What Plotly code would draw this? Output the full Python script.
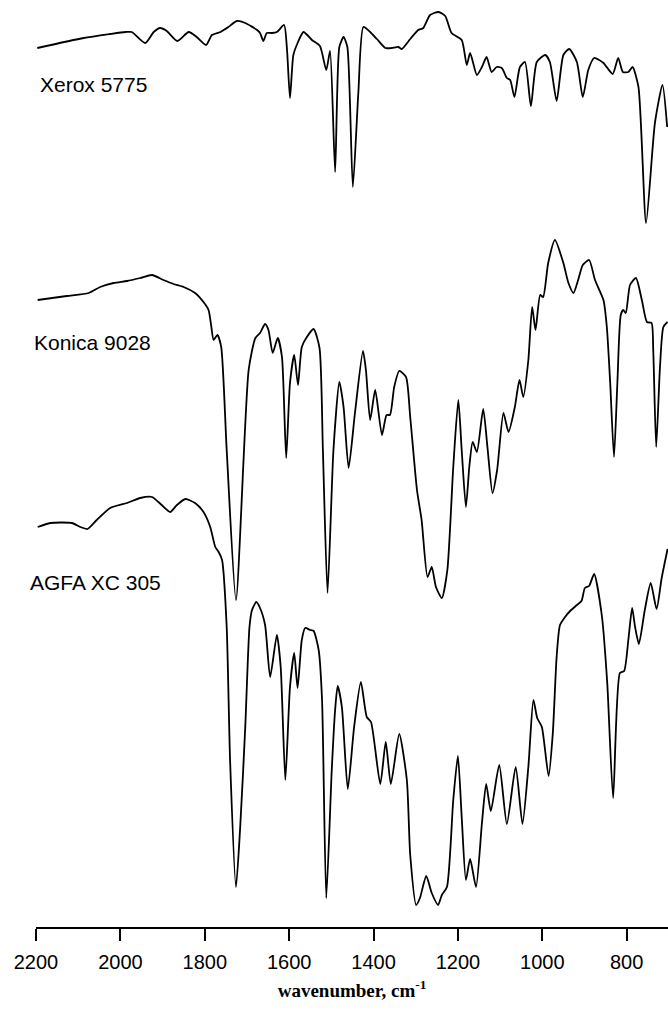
import plotly.graph_objects as go

# ---- data (wavenumber in cm^-1, signal in arbitrary stacked units) ----
xerox_wn = [2197, 2087, 2024, 1988, 1973, 1941, 1921, 1906, 1890, 1865, 1838, 1819, 1797, 1783,
            1763, 1744, 1724, 1704, 1676, 1669, 1661, 1653, 1641, 1629, 1612, 1605, 1598, 1590,
            1580, 1566, 1546, 1527, 1512, 1503, 1491, 1481, 1471, 1462, 1449, 1436, 1424, 1408,
            1392, 1372, 1357, 1341, 1333, 1313, 1294, 1282, 1266, 1246, 1230, 1215, 1191, 1179,
            1171, 1155, 1143, 1132, 1120, 1108, 1096, 1084, 1076, 1066, 1053, 1041, 1027, 1013,
            993, 982, 966, 950, 936, 918, 904, 891, 877, 855, 833, 820, 809, 796, 786, 772, 754,
            733, 715, 704]
xerox_val = [879, 889, 893, 895, 895, 884, 895, 899, 896, 886, 895, 890, 882, 892,
             895, 900, 906, 904, 897, 894, 886, 894, 894, 895, 902, 877, 829, 872,
             884, 895, 887, 881, 857, 876, 755, 880, 890, 880, 740, 834, 900, 895,
             888, 879, 879, 880, 878, 888, 897, 899, 912, 915, 911, 894, 887, 862,
             874, 852, 860, 870, 855, 860, 859, 849, 847, 830, 860, 865, 821, 865,
             872, 865, 826, 872, 878, 865, 830, 857, 869, 864, 853, 869, 855, 855, 860, 840, 704,
             804, 842, 800]

konica_wn = [2196, 2127, 2075, 2048, 2016, 1984, 1953, 1925, 1898, 1874, 1850, 1823, 1803, 1791,
             1785, 1779, 1770, 1761, 1748, 1726, 1696, 1680, 1669, 1657, 1649, 1639, 1627, 1617,
             1607, 1598, 1588, 1579, 1570, 1558, 1542, 1528, 1520, 1509, 1495, 1481, 1471, 1459,
             1444, 1425, 1418, 1408, 1396, 1380, 1369, 1361, 1351, 1339, 1323, 1313, 1297, 1286,
             1272, 1262, 1252, 1238, 1225, 1211, 1199, 1191, 1181, 1173, 1165, 1155, 1140, 1130,
             1118, 1107, 1092, 1080, 1065, 1054, 1045, 1033, 1024, 1016, 1005, 998, 986, 970, 950,
             938, 926, 915, 904, 889, 875, 855, 847, 839, 830, 822, 814, 808, 802, 792, 778, 764,
             752, 741, 737, 730, 721, 713, 703]
konica_val = [627, 631, 634, 640, 644, 646, 649, 652, 647, 643, 640, 634, 625, 617,
              602, 587, 592, 580, 477, 327, 557, 589, 594, 603, 597, 574, 589, 570,
              469, 544, 572, 542, 580, 590, 598, 579, 477, 334, 477, 545, 520, 459,
              514, 576, 557, 507, 537, 492, 512, 512, 540, 556, 550, 510, 437, 407,
              350, 360, 340, 329, 357, 460, 527, 477, 420, 460, 485, 475, 518, 480,
              434, 457, 514, 495, 520, 547, 530, 567, 620, 597, 632, 630, 664, 687, 664,
              644, 634, 647, 662, 667, 647, 627, 600, 544, 470, 544, 612, 617, 614, 642, 649, 627,
              605, 604, 577, 480, 560, 600, 605]

agfa_wn = [2196, 2166, 2115, 2095, 2078, 2056, 2024, 1984, 1953, 1925, 1902, 1882, 1866, 1846,
           1823, 1803, 1787, 1775, 1767, 1759, 1748, 1740, 1726, 1716, 1704, 1694, 1688, 1678,
           1669, 1657, 1645, 1629, 1620, 1609, 1598, 1588, 1580, 1570, 1562, 1550, 1542, 1530,
           1522, 1512, 1499, 1491, 1485, 1475, 1461, 1446, 1430, 1416, 1406, 1384, 1371, 1359,
           1339, 1321, 1313, 1299, 1290, 1275, 1262, 1247, 1238, 1226, 1211, 1200, 1191, 1181,
           1171, 1157, 1143, 1133, 1122, 1102, 1084, 1063, 1047, 1033, 1021, 1012, 1001, 985,
           975, 966, 958, 946, 934, 918, 907, 899, 889, 877, 859, 846, 832, 816, 806, 796, 787,
           780, 771, 757, 743, 729, 717, 703]
agfa_val = [400, 404, 404, 400, 398, 407, 419, 424, 429, 430, 422, 415, 422, 428,
            424, 415, 400, 380, 375, 367, 300, 167, 40, 100, 200, 300, 317, 325,
            319, 302, 250, 292, 260, 147, 240, 274, 239, 287, 299, 297, 296, 277,
            227, 29, 157, 217, 241, 220, 138, 200, 245, 210, 205, 143, 185, 143,
            193, 147, 72, 22, 29, 51, 34, 22, 32, 40, 127, 171, 110, 47,
            68, 40, 104, 143, 116, 162, 103, 160, 103, 160, 227, 209, 200, 151,
            194, 270, 302, 310, 316, 322, 326, 339, 341, 353, 312, 244, 129, 254, 256, 287, 319,
            300, 283, 317, 344, 318, 349, 378]

series_names = ["Xerox 5775", "Konica 9028", "AGFA XC 305"]
tick_vals = [2200, 2000, 1800, 1600, 1400, 1200, 1000, 800]

# ---- figure ----
fig = go.Figure()
for name, wn, val in zip(series_names,
                         [xerox_wn, konica_wn, agfa_wn],
                         [xerox_val, konica_val, agfa_val]):
    fig.add_trace(go.Scatter(x=wn, y=val, mode="lines", name=name,
                             line=dict(color="black", width=1.8, shape="spline", smoothing=0.6),
                             hoverinfo="skip"))

# label anchor (paper x, data y)
label_pos = {"Xerox 5775": (0.003, 843), "Konica 9028": (-0.006, 585), "AGFA XC 305": (-0.013, 345)}
for name in series_names:
    lx, ly = label_pos[name]
    fig.add_annotation(x=lx, y=ly, xref="paper", yref="y", text=name, showarrow=False,
                       xanchor="left", yanchor="middle",
                       font=dict(family="Liberation Sans, Arial, sans-serif", size=21, color="black"))

fig.update_layout(
    width=668, height=1015,
    margin=dict(l=36, r=0, t=0, b=88),
    paper_bgcolor="white", plot_bgcolor="white",
    showlegend=False,
    xaxis=dict(range=[2200, 702], tickvals=tick_vals, ticktext=[str(v) for v in tick_vals],
               ticks="outside", ticklen=12, tickwidth=1.6, tickcolor="black",
               showline=True, linewidth=1.8, linecolor="black", showgrid=False, zeroline=False,
               tickfont=dict(family="Liberation Sans, Arial, sans-serif", size=20, color="black"),
               ticklabelstandoff=4,
               title=dict(text="<b>wavenumber, cm<sup>-1</sup></b>", standoff=12,
                          font=dict(family="Liberation Serif, Times New Roman, serif", size=19,
                                    color="black"))),
    yaxis=dict(range=[0, 927], visible=False, showgrid=False, zeroline=False),
)

fig.write_html("out.html", config={"displayModeBar": False},
               post_script="document.body.style.margin='0';")
